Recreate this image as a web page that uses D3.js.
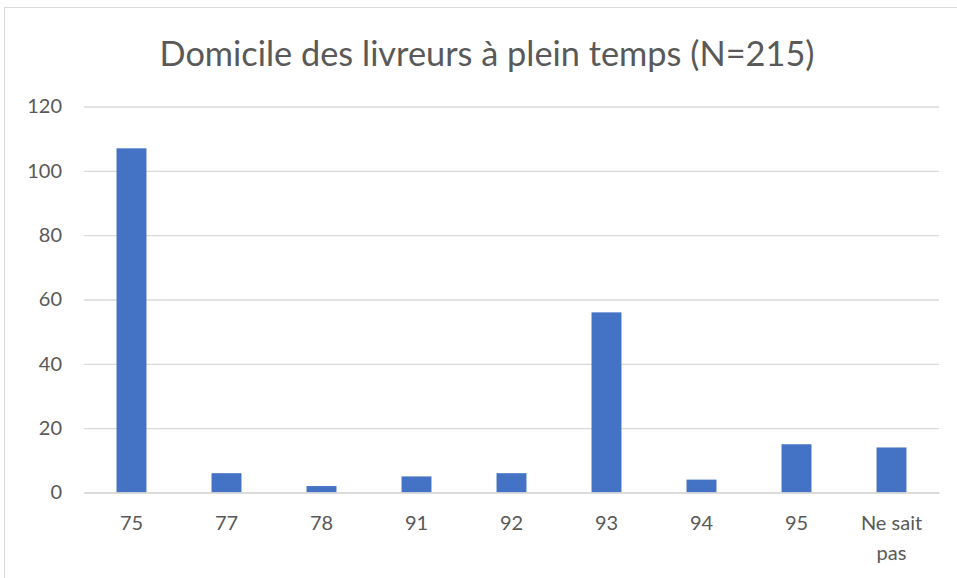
<!DOCTYPE html>
<html><head><meta charset="utf-8">
<script src="https://cdn.jsdelivr.net/npm/d3@7"></script>
<style>body{margin:0;background:#fff}svg{display:block}</style>
</head><body>
<svg id="c" width="957" height="578"></svg>
<script>
const categories = ["75","77","78","91","92","93","94","95","Ne sait pas"];
const values = [107,6,2,5,6,56,4,15,14];
const yTicks = [0,20,40,60,80,100,120];
const title = "Domicile des livreurs à plein temps (N=215)";

const svg = d3.select("#c");
const font = "Lato, 'Open Sans', sans-serif";
const txt = "#595959";
svg.append("rect").attr("x",4.5).attr("y",7.5).attr("width",960).attr("height",580)
  .attr("fill","#fff").attr("stroke","#d9d9d9").attr("stroke-width",1);

const m = {l:84, r:939, t:106.5, b:492.5};
const x = d3.scaleBand().domain(categories).range([m.l,m.r]).paddingInner(0.685).paddingOuter(0.3425);
const y = d3.scaleLinear().domain([0,120]).range([m.b,m.t]);

svg.append("text").attr("x",487).attr("y",66).attr("text-anchor","middle")
  .attr("font-family",font).attr("font-size",34).attr("fill",txt)
  .attr("textLength",655).attr("lengthAdjust","spacingAndGlyphs").text(title);

const gy = svg.append("g").attr("transform",`translate(${m.l},0)`)
  .call(d3.axisLeft(y).tickValues(yTicks).tickSize(-(m.r-m.l)).tickPadding(22));
gy.select(".domain").remove();
gy.selectAll(".tick line").attr("stroke","#d9d9d9").attr("stroke-width",1.3);
gy.selectAll(".tick text").attr("font-family",font).attr("font-size",20).attr("fill",txt);

svg.append("g").selectAll("rect").data(values).join("rect")
  .attr("x",(d,i)=>x(categories[i])).attr("width",x.bandwidth())
  .attr("y",d=>y(d)).attr("height",d=>y(0)-y(d)).attr("fill","#4472c4");

const gx = svg.append("g").attr("transform",`translate(0,${m.b})`)
  .call(d3.axisBottom(x).tickSize(0).tickPadding(23));
gx.select(".domain").attr("stroke","#d9d9d9").attr("stroke-width",1.3);
gx.selectAll(".tick text").attr("font-family",font).attr("font-size",20).attr("fill",txt)
  .each(function(d){
    const words = d.split(" ");
    if (words.length>2){
      const t = d3.select(this); t.text(null);
      t.append("tspan").attr("x",0).attr("dy","0.71em").text(words.slice(0,2).join(" "));
      t.append("tspan").attr("x",0).attr("dy","1.5em").text(words.slice(2).join(" "));
      t.attr("dy",null);
    }
  });
</script>
</body></html>
